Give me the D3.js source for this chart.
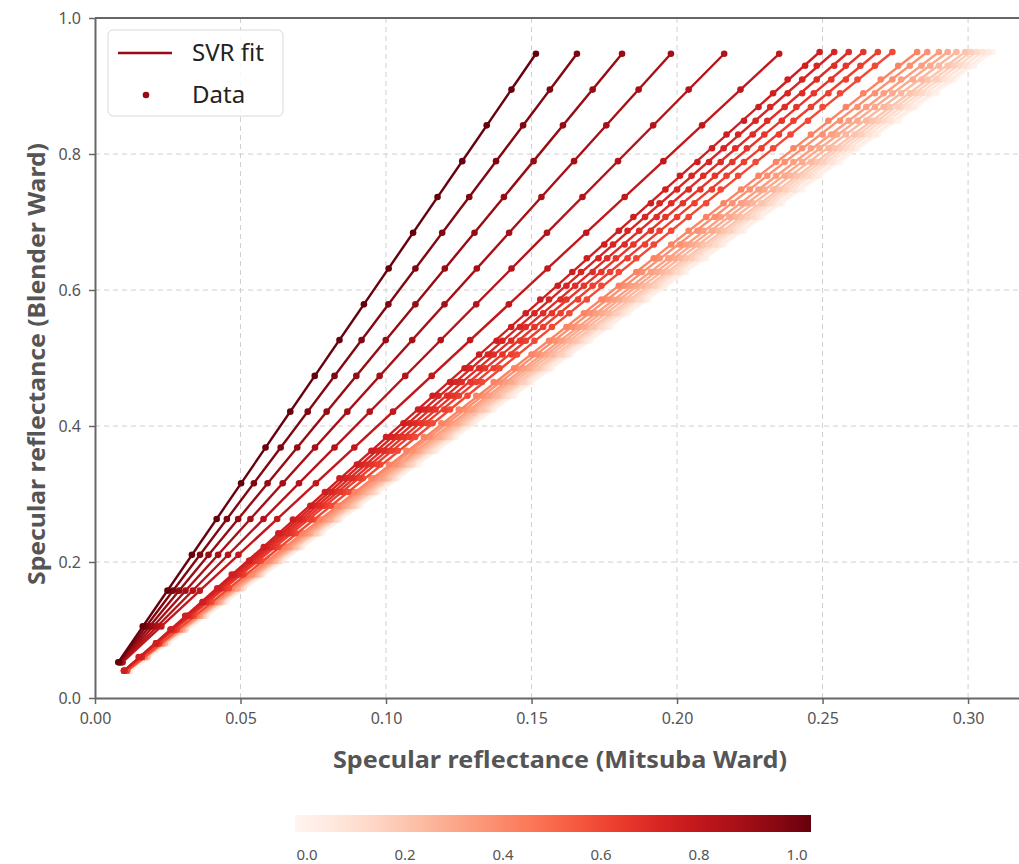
<!DOCTYPE html>
<html>
<head>
<meta charset="utf-8">
<script src="https://cdn.jsdelivr.net/npm/d3@7"></script>
<style>
  body { margin: 0; background: #fff; }
  svg { display: block; }
</style>
</head>
<body>
<div class="container"></div>
<script>
// Blender Ward values (y) - two sampling grids
const yDark = [0.0526, 0.1053, 0.1579, 0.2105, 0.2632, 0.3158, 0.3684, 0.4211, 0.4737, 0.5263, 0.5789, 0.6316, 0.6842, 0.7368, 0.7895, 0.8421, 0.8947, 0.9474]
const yDense = [0.0400, 0.0602, 0.0804, 0.1007, 0.1209, 0.1411, 0.1613, 0.1816, 0.2018, 0.2220, 0.2422, 0.2624, 0.2827, 0.3029, 0.3231, 0.3433, 0.3636, 0.3838, 0.4040, 0.4242, 0.4444, 0.4647, 0.4849, 0.5051, 0.5253, 0.5456, 0.5658, 0.5860, 0.6062, 0.6264, 0.6467, 0.6669, 0.6871, 0.7073, 0.7276, 0.7478, 0.7680, 0.7882, 0.8084, 0.8287, 0.8489, 0.8691, 0.8893, 0.9096, 0.9298, 0.9500]

// colour value of each series (colorbar 0..1)
const colorValues = [1.00, 0.95, 0.90, 0.86, 0.82, 0.78, 0.74, 0.71, 0.68, 0.65, 0.62, 0.59, 0.42, 0.38, 0.34, 0.30, 0.26, 0.22, 0.18, 0.14, 0.10, 0.06, 0.02]

// Mitsuba Ward values (x), one array per series
const mitsubaX = [
  [0.0080, 0.0164, 0.0249, 0.0333, 0.0418, 0.0502, 0.0586, 0.0671, 0.0755, 0.0840, 0.0924, 0.1009, 0.1093, 0.1177, 0.1262, 0.1346, 0.1431, 0.1515],
  [0.0083, 0.0176, 0.0268, 0.0361, 0.0453, 0.0546, 0.0638, 0.0731, 0.0823, 0.0916, 0.1008, 0.1101, 0.1193, 0.1286, 0.1378, 0.1471, 0.1563, 0.1656],
  [0.0086, 0.0188, 0.0289, 0.0390, 0.0492, 0.0593, 0.0695, 0.0796, 0.0898, 0.0999, 0.1101, 0.1202, 0.1304, 0.1405, 0.1507, 0.1608, 0.1710, 0.1811],
  [0.0089, 0.0200, 0.0311, 0.0423, 0.0534, 0.0645, 0.0756, 0.0867, 0.0978, 0.1090, 0.1201, 0.1312, 0.1423, 0.1534, 0.1646, 0.1757, 0.1868, 0.1979],
  [0.0092, 0.0214, 0.0336, 0.0457, 0.0579, 0.0701, 0.0823, 0.0944, 0.1066, 0.1188, 0.1310, 0.1431, 0.1553, 0.1675, 0.1797, 0.1918, 0.2040, 0.2162],
  [0.0095, 0.0228, 0.0360, 0.0493, 0.0626, 0.0759, 0.0891, 0.1024, 0.1157, 0.1289, 0.1422, 0.1555, 0.1688, 0.1820, 0.1953, 0.2086, 0.2218, 0.2351],
  [0.010, 0.015, 0.021, 0.026, 0.031, 0.037, 0.042, 0.047, 0.053, 0.058, 0.063, 0.068, 0.074, 0.079, 0.084, 0.090, 0.095, 0.100, 0.106, 0.111, 0.116, 0.122, 0.127, 0.132, 0.138, 0.143, 0.148, 0.153, 0.159, 0.164, 0.169, 0.175, 0.180, 0.185, 0.191, 0.196, 0.201, 0.207, 0.212, 0.217, 0.223, 0.228, 0.233, 0.238, 0.244, 0.249],
  [0.010, 0.016, 0.021, 0.026, 0.032, 0.037, 0.043, 0.048, 0.053, 0.059, 0.064, 0.070, 0.075, 0.081, 0.086, 0.091, 0.097, 0.102, 0.108, 0.113, 0.118, 0.124, 0.129, 0.135, 0.140, 0.146, 0.151, 0.156, 0.162, 0.167, 0.173, 0.178, 0.183, 0.189, 0.194, 0.200, 0.205, 0.211, 0.216, 0.221, 0.227, 0.232, 0.238, 0.243, 0.248, 0.254],
  [0.010, 0.016, 0.021, 0.027, 0.032, 0.038, 0.043, 0.049, 0.054, 0.060, 0.066, 0.071, 0.077, 0.082, 0.088, 0.093, 0.099, 0.104, 0.110, 0.115, 0.121, 0.126, 0.132, 0.137, 0.143, 0.148, 0.154, 0.160, 0.165, 0.171, 0.176, 0.182, 0.187, 0.193, 0.198, 0.204, 0.209, 0.215, 0.220, 0.226, 0.231, 0.237, 0.243, 0.248, 0.254, 0.259],
  [0.010, 0.016, 0.022, 0.027, 0.033, 0.038, 0.044, 0.050, 0.055, 0.061, 0.067, 0.072, 0.078, 0.084, 0.089, 0.095, 0.100, 0.106, 0.112, 0.117, 0.123, 0.129, 0.134, 0.140, 0.146, 0.151, 0.157, 0.162, 0.168, 0.174, 0.179, 0.185, 0.191, 0.196, 0.202, 0.208, 0.213, 0.219, 0.224, 0.230, 0.236, 0.241, 0.247, 0.253, 0.258, 0.264],
  [0.010, 0.016, 0.022, 0.028, 0.033, 0.039, 0.045, 0.051, 0.056, 0.062, 0.068, 0.074, 0.079, 0.085, 0.091, 0.097, 0.102, 0.108, 0.114, 0.120, 0.125, 0.131, 0.137, 0.143, 0.148, 0.154, 0.160, 0.166, 0.171, 0.177, 0.183, 0.189, 0.194, 0.200, 0.206, 0.212, 0.217, 0.223, 0.229, 0.235, 0.240, 0.246, 0.252, 0.258, 0.263, 0.269],
  [0.011, 0.016, 0.022, 0.028, 0.034, 0.040, 0.046, 0.051, 0.057, 0.063, 0.069, 0.075, 0.081, 0.087, 0.092, 0.098, 0.104, 0.110, 0.116, 0.122, 0.128, 0.133, 0.139, 0.145, 0.151, 0.157, 0.163, 0.169, 0.174, 0.180, 0.186, 0.192, 0.198, 0.204, 0.210, 0.215, 0.221, 0.227, 0.233, 0.239, 0.245, 0.250, 0.256, 0.262, 0.268, 0.274],
  [0.011, 0.017, 0.023, 0.029, 0.035, 0.041, 0.047, 0.053, 0.059, 0.065, 0.071, 0.077, 0.083, 0.089, 0.095, 0.101, 0.107, 0.113, 0.119, 0.125, 0.131, 0.137, 0.144, 0.150, 0.156, 0.162, 0.168, 0.174, 0.180, 0.186, 0.192, 0.198, 0.204, 0.210, 0.216, 0.222, 0.228, 0.234, 0.240, 0.246, 0.252, 0.258, 0.264, 0.270, 0.276, 0.2825],
  [0.011, 0.017, 0.023, 0.029, 0.035, 0.041, 0.047, 0.054, 0.060, 0.066, 0.072, 0.078, 0.084, 0.090, 0.096, 0.103, 0.109, 0.115, 0.121, 0.127, 0.133, 0.139, 0.145, 0.152, 0.158, 0.164, 0.170, 0.176, 0.182, 0.188, 0.194, 0.201, 0.207, 0.213, 0.219, 0.225, 0.231, 0.237, 0.243, 0.250, 0.256, 0.262, 0.268, 0.274, 0.280, 0.286],
  [0.011, 0.017, 0.023, 0.029, 0.036, 0.042, 0.048, 0.054, 0.060, 0.067, 0.073, 0.079, 0.085, 0.091, 0.098, 0.104, 0.110, 0.116, 0.122, 0.129, 0.135, 0.141, 0.147, 0.153, 0.160, 0.166, 0.172, 0.178, 0.184, 0.191, 0.197, 0.203, 0.209, 0.215, 0.222, 0.228, 0.234, 0.240, 0.246, 0.253, 0.259, 0.265, 0.271, 0.277, 0.284, 0.290],
  [0.011, 0.017, 0.023, 0.030, 0.036, 0.042, 0.049, 0.055, 0.061, 0.067, 0.074, 0.080, 0.086, 0.092, 0.099, 0.105, 0.111, 0.118, 0.124, 0.130, 0.136, 0.143, 0.149, 0.155, 0.161, 0.168, 0.174, 0.180, 0.186, 0.193, 0.199, 0.205, 0.212, 0.218, 0.224, 0.230, 0.237, 0.243, 0.249, 0.255, 0.262, 0.268, 0.274, 0.281, 0.287, 0.293],
  [0.011, 0.017, 0.024, 0.030, 0.036, 0.043, 0.049, 0.055, 0.062, 0.068, 0.074, 0.081, 0.087, 0.093, 0.100, 0.106, 0.112, 0.119, 0.125, 0.131, 0.138, 0.144, 0.150, 0.157, 0.163, 0.169, 0.176, 0.182, 0.188, 0.195, 0.201, 0.207, 0.214, 0.220, 0.226, 0.233, 0.239, 0.246, 0.252, 0.258, 0.265, 0.271, 0.277, 0.284, 0.290, 0.296],
  [0.011, 0.018, 0.024, 0.030, 0.037, 0.043, 0.049, 0.056, 0.062, 0.069, 0.075, 0.081, 0.088, 0.094, 0.101, 0.107, 0.113, 0.120, 0.126, 0.133, 0.139, 0.145, 0.152, 0.158, 0.165, 0.171, 0.177, 0.184, 0.190, 0.197, 0.203, 0.209, 0.216, 0.222, 0.229, 0.235, 0.241, 0.248, 0.254, 0.261, 0.267, 0.273, 0.280, 0.286, 0.293, 0.299],
  [0.011, 0.018, 0.024, 0.031, 0.037, 0.043, 0.050, 0.056, 0.063, 0.069, 0.076, 0.082, 0.089, 0.095, 0.101, 0.108, 0.114, 0.121, 0.127, 0.134, 0.140, 0.147, 0.153, 0.160, 0.166, 0.172, 0.179, 0.185, 0.192, 0.198, 0.205, 0.211, 0.218, 0.224, 0.230, 0.237, 0.243, 0.250, 0.256, 0.263, 0.269, 0.276, 0.282, 0.289, 0.295, 0.301],
  [0.011, 0.018, 0.024, 0.031, 0.037, 0.044, 0.050, 0.057, 0.063, 0.070, 0.076, 0.083, 0.089, 0.096, 0.102, 0.109, 0.115, 0.122, 0.128, 0.135, 0.141, 0.148, 0.154, 0.161, 0.167, 0.174, 0.180, 0.187, 0.193, 0.200, 0.206, 0.213, 0.219, 0.226, 0.232, 0.238, 0.245, 0.251, 0.258, 0.264, 0.271, 0.277, 0.284, 0.290, 0.297, 0.303],
  [0.011, 0.018, 0.024, 0.031, 0.038, 0.044, 0.051, 0.057, 0.064, 0.070, 0.077, 0.083, 0.090, 0.096, 0.103, 0.109, 0.116, 0.122, 0.129, 0.135, 0.142, 0.149, 0.155, 0.162, 0.168, 0.175, 0.181, 0.188, 0.194, 0.201, 0.207, 0.214, 0.220, 0.227, 0.233, 0.240, 0.246, 0.253, 0.260, 0.266, 0.273, 0.279, 0.286, 0.292, 0.299, 0.305],
  [0.012, 0.018, 0.025, 0.031, 0.038, 0.044, 0.051, 0.057, 0.064, 0.071, 0.077, 0.084, 0.090, 0.097, 0.103, 0.110, 0.117, 0.123, 0.130, 0.136, 0.143, 0.149, 0.156, 0.163, 0.169, 0.176, 0.182, 0.189, 0.195, 0.202, 0.209, 0.215, 0.222, 0.228, 0.235, 0.241, 0.248, 0.254, 0.261, 0.268, 0.274, 0.281, 0.287, 0.294, 0.300, 0.307],
  [0.012, 0.018, 0.025, 0.031, 0.038, 0.045, 0.051, 0.058, 0.064, 0.071, 0.078, 0.084, 0.091, 0.097, 0.104, 0.111, 0.117, 0.124, 0.130, 0.137, 0.144, 0.150, 0.157, 0.163, 0.170, 0.177, 0.183, 0.190, 0.196, 0.203, 0.210, 0.216, 0.223, 0.229, 0.236, 0.243, 0.249, 0.256, 0.262, 0.269, 0.276, 0.282, 0.289, 0.295, 0.302, 0.3085]
]

const xTicks = [0, 0.05, 0.10, 0.15, 0.20, 0.25, 0.30]
const yTicks = [0, 0.2, 0.4, 0.6, 0.8, 1.0]
const barTicks = [0, 0.2, 0.4, 0.6, 0.8, 1.0]
const legendLabels = ["SVR fit", "Data"]

const w = 1019
const h = 864
const font = "'Noto Sans', 'Open Sans', sans-serif"

const svg = d3.select(".container")
  .append("svg")
  .attr("width", w)
  .attr("height", h)

const x = d3.scaleLinear().domain([0, 0.3175]).range([95, 1019])
const y = d3.scaleLinear().domain([0, 1]).range([698, 18])
const color = t => d3.interpolateReds(t)

// grid
svg.append("g").selectAll("line")
  .data(xTicks.slice(1))
  .enter().append("line")
  .attr("x1", d => x(d)).attr("x2", d => x(d))
  .attr("y1", y(1)).attr("y2", y(0))
  .attr("stroke", "#d0d0d0").attr("stroke-dasharray", "5,4")

svg.append("g").selectAll("line")
  .data(yTicks.slice(1, -1))
  .enter().append("line")
  .attr("x1", x.range()[0]).attr("x2", w)
  .attr("y1", d => y(d)).attr("y2", d => y(d))
  .attr("stroke", "#d0d0d0").attr("stroke-dasharray", "5,4")

// series (light ones first)
const series = mitsubaX.map((xs, i) => {
  const ys = xs.length === yDark.length ? yDark : yDense
  return { t: colorValues[i], points: xs.map((v, j) => [v, ys[j]]) }
})

const line = d3.line().x(d => x(d[0])).y(d => y(d[1]))

const g = svg.append("g")
  .selectAll("g")
  .data(series.slice().reverse())
  .enter()
  .append("g")

g.append("path")
  .attr("d", d => line([d.points[0], d.points[d.points.length - 1]]))
  .attr("fill", "none")
  .attr("stroke", d => color(d.t))
  .attr("stroke-width", 2.4)

g.selectAll("circle")
  .data(d => d.points.map(p => ({ p: p, t: d.t })))
  .enter()
  .append("circle")
  .attr("cx", d => x(d.p[0]))
  .attr("cy", d => y(d.p[1]))
  .attr("r", 3.3)
  .attr("fill", d => color(d.t))

// axes
svg.append("g")
  .attr("transform", `translate(0,${y(0)})`)
  .call(d3.axisBottom(x).tickValues(xTicks).tickFormat(d3.format(".2f")).tickSize(6).tickSizeOuter(0).tickPadding(9))

svg.append("g")
  .attr("transform", `translate(${x(0)},0)`)
  .call(d3.axisLeft(y).tickValues(yTicks).tickFormat(d3.format(".1f")).tickSize(6).tickSizeOuter(0).tickPadding(8))

svg.selectAll(".domain").attr("stroke", "#666").attr("stroke-width", 2)
svg.selectAll(".tick line").attr("stroke", "#666").attr("stroke-width", 1.5)
svg.selectAll(".tick text").attr("fill", "#555").style("font-family", font).style("font-size", "16px")

// top spine
svg.append("line")
  .attr("x1", x(0)).attr("x2", w)
  .attr("y1", y(1)).attr("y2", y(1))
  .attr("stroke", "#666").attr("stroke-width", 2)

// axis titles
svg.append("text")
  .attr("x", 560).attr("y", 768)
  .attr("text-anchor", "middle")
  .attr("fill", "#555")
  .style("font-family", font).style("font-size", "23px").style("font-weight", "bold")
  .attr("textLength", 454).attr("lengthAdjust", "spacingAndGlyphs")
  .text("Specular reflectance (Mitsuba Ward)")

svg.append("text")
  .attr("transform", "translate(45,364) rotate(-90)")
  .attr("text-anchor", "middle")
  .attr("fill", "#555")
  .style("font-family", font).style("font-size", "23px").style("font-weight", "bold")
  .attr("textLength", 442).attr("lengthAdjust", "spacingAndGlyphs")
  .text("Specular reflectance (Blender Ward)")

// legend
const legend = svg.append("g").attr("class", "legend")
legend.append("rect")
  .attr("x", 108).attr("y", 30).attr("width", 175).attr("height", 86).attr("rx", 5)
  .attr("fill", "white").attr("fill-opacity", 0.85)
  .attr("stroke", "#d8d8d8")

const legendColor = color(0.9)
legend.append("line")
  .attr("x1", 118).attr("x2", 172).attr("y1", 53).attr("y2", 53)
  .attr("stroke", legendColor).attr("stroke-width", 2.4)
legend.append("circle")
  .attr("cx", 146).attr("cy", 95).attr("r", 3.3).attr("fill", legendColor)

legend.selectAll("text.lbl")
  .data(legendLabels)
  .enter().append("text")
  .attr("class", "lbl")
  .attr("x", 192)
  .attr("y", (d, i) => 61 + i * 42)
  .attr("fill", "#222")
  .style("font-family", font).style("font-size", "24px")
  .text(d => d)

// colorbar
const defs = svg.append("defs")
const grad = defs.append("linearGradient").attr("id", "reds")
grad.selectAll("stop")
  .data(d3.range(0, 1.0001, 0.05))
  .enter().append("stop")
  .attr("offset", d => d * 100 + "%")
  .attr("stop-color", d => color(d))

svg.append("rect")
  .attr("x", 295).attr("y", 815).attr("width", 516).attr("height", 17)
  .attr("fill", "url(#reds)")

const cb = d3.scaleLinear().domain([0, 1]).range([307, 797])
svg.append("g").selectAll("text")
  .data(barTicks)
  .enter().append("text")
  .attr("x", d => cb(d))
  .attr("y", 860)
  .attr("text-anchor", "middle")
  .attr("fill", "#555")
  .style("font-family", font).style("font-size", "15px")
  .text(d => d3.format(".1f")(d))
</script>
</body>
</html>
